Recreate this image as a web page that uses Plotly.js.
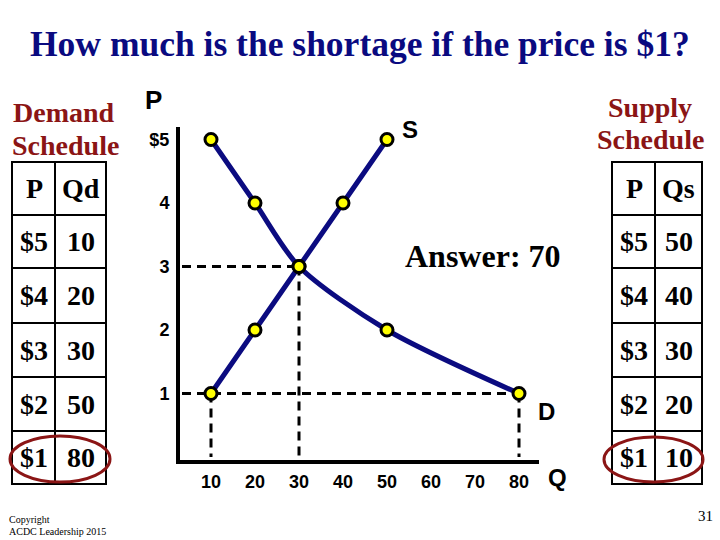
<!DOCTYPE html>
<html>
<head>
<meta charset="utf-8">
<script src="https://cdn.plot.ly/plotly-3.0.1.min.js"></script>
<style>html,body{margin:0;padding:0;background:#fff;}#chart{width:720px;height:540px;}</style>
</head>
<body>
<div id="chart"></div>
<script>
// ---- data ----
const prices = [5, 4, 3, 2, 1];
const qDemand = [10, 20, 30, 50, 80];
const qSupply = [50, 40, 30, 20, 10];
const xTicks = [10, 20, 30, 40, 50, 60, 70, 80];
const yTicks = [1, 2, 3, 4, 5];
const yTickText = ['1', '2', '3', '4', '$5'];
const eqPrice = 3, eqQty = 30;
const testPrice = 1;
const answerText = 'Answer: 70';
const titleText = 'How much is the shortage if the price is $1?';

// ---- layout helpers (pixel -> paper) ----
const W = 720, H = 540;
const L = 180, R = 539, T = 127, B = 460;
const px = x => (x - L) / (R - L);
const py = y => (B - y) / (B - T);

const navy = '#0b0b80';
const darkRed = '#8b1515';
const serif = 'Liberation Serif, Times New Roman, serif';
const sans = 'Liberation Sans, Arial, sans-serif';

const qdAtTest = qDemand[prices.indexOf(testPrice)];
const qsAtTest = qSupply[prices.indexOf(testPrice)];

const dash = {color: 'black', width: 3, dash: '9px,6px'};
const traces = [
  {x: [0, eqQty], y: [eqPrice, eqPrice], mode: 'lines', line: dash, hoverinfo: 'skip'},
  {x: [eqQty, eqQty], y: [eqPrice, 0], mode: 'lines', line: dash, hoverinfo: 'skip'},
  {x: [0, qdAtTest], y: [testPrice, testPrice], mode: 'lines', line: dash, hoverinfo: 'skip'},
  {x: [qsAtTest, qsAtTest], y: [testPrice, 0], mode: 'lines', line: dash, hoverinfo: 'skip'},
  {x: [qdAtTest, qdAtTest], y: [testPrice, 0], mode: 'lines', line: dash, hoverinfo: 'skip'},
  {x: qDemand, y: prices, mode: 'lines', line: {color: navy, width: 5, shape: 'spline', smoothing: 0.8}},
  {x: qSupply.slice().reverse(), y: prices.slice().reverse(), mode: 'lines', line: {color: navy, width: 5, shape: 'spline', smoothing: 0.8}},
  {x: qDemand, y: prices, mode: 'markers', marker: {size: 12, color: '#ffff00', line: {color: 'black', width: 3}}},
  {x: qSupply, y: prices, mode: 'markers', marker: {size: 12, color: '#ffff00', line: {color: 'black', width: 3}}}
];

// ---- annotations ----
const ann = [];
function txt(text, x, y, size, color, family, weight, xanchor) {
  ann.push({text: text, x: px(x), y: py(y), xref: 'paper', yref: 'paper', showarrow: false,
    xanchor: xanchor || 'center', yanchor: 'middle',
    font: {size: size, color: color, family: family, weight: weight}});
}
txt(titleText, 360, 44, 35.5, '#0a0a80', serif, 700);
txt('Demand', 64, 112, 28, darkRed, serif, 700);
txt('Schedule', 65, 145, 28, darkRed, serif, 700);
txt('Supply', 650, 107, 28, darkRed, serif, 700);
txt('Schedule', 650, 139, 28, darkRed, serif, 700);
txt('P', 153, 100, 26, 'black', sans, 700);
txt('S', 410, 129, 24, 'black', sans, 700);
txt('D', 546, 411, 24, 'black', sans, 700);
txt('Q', 557, 478, 24, 'black', sans, 700);
txt(answerText, 483, 256, 32, 'black', serif, 700);
txt('Copyright', 7, 519, 10, 'black', serif, 400, 'left');
txt('ACDC Leadership 2015', 7, 531, 10, 'black', serif, 400, 'left');
txt('31', 705, 516, 15, 'black', serif, 400);

// ---- tables ----
const shapes = [];
const rowEdges = [162, 215, 268, 323, 377, 431, 484];
function table(x0, xm, x1, headQ, qVals) {
  shapes.push({type: 'rect', xref: 'paper', yref: 'paper', x0: px(x0), x1: px(x1), y0: py(rowEdges[0]), y1: py(rowEdges[rowEdges.length - 1]), line: {color: 'black', width: 2}});
  shapes.push({type: 'line', xref: 'paper', yref: 'paper', x0: px(xm), x1: px(xm), y0: py(rowEdges[0]), y1: py(rowEdges[rowEdges.length - 1]), line: {color: 'black', width: 2}});
  for (let i = 1; i < rowEdges.length - 1; i++) {
    shapes.push({type: 'line', xref: 'paper', yref: 'paper', x0: px(x0), x1: px(x1), y0: py(rowEdges[i]), y1: py(rowEdges[i]), line: {color: 'black', width: 2}});
  }
  const cL = (x0 + xm) / 2, cR = (xm + x1) / 2;
  txt('P', cL + 1, (rowEdges[0] + rowEdges[1]) / 2, 28, 'black', serif, 700);
  txt(headQ, cR, (rowEdges[0] + rowEdges[1]) / 2, 28, 'black', serif, 700);
  prices.forEach((p, i) => {
    const yc = (rowEdges[i + 1] + rowEdges[i + 2]) / 2;
    txt('$' + p, cL, yc, 28, 'black', serif, 700);
    txt(String(qVals[i]), cR, yc, 28, 'black', serif, 700);
  });
}
table(12, 55, 106, 'Qd', qDemand);
table(612, 655, 702, 'Qs', qSupply);

shapes.push({type: 'circle', xref: 'paper', yref: 'paper', x0: px(10), x1: px(110), y0: py(482), y1: py(436), line: {color: darkRed, width: 3}});
shapes.push({type: 'circle', xref: 'paper', yref: 'paper', x0: px(604), x1: px(703), y0: py(482), y1: py(437), line: {color: darkRed, width: 3}});

const layout = {
  width: W, height: H,
  margin: {l: L, r: W - R, t: T, b: H - B, pad: 0},
  paper_bgcolor: 'white', plot_bgcolor: 'white',
  showlegend: false,
  xaxis: {range: [(180 - 167) / 4.4, (539 - 167) / 4.4], tickvals: xTicks, showgrid: false, zeroline: false,
    showline: true, linewidth: 4, linecolor: 'black', ticks: '', ticklabelstandoff: 2,
    tickfont: {family: sans, size: 18, color: 'black', weight: 700}},
  yaxis: {range: [(457 - 460) / 63.5, (457 - 127) / 63.5], tickvals: yTicks, ticktext: yTickText, showgrid: false, zeroline: false,
    showline: true, linewidth: 4, linecolor: 'black', ticks: '', ticklabelstandoff: 3,
    tickfont: {family: sans, size: 18, color: 'black', weight: 700}},
  annotations: ann,
  shapes: shapes
};

Plotly.newPlot('chart', traces, layout, {displayModeBar: false, staticPlot: true});
</script>
</body>
</html>
